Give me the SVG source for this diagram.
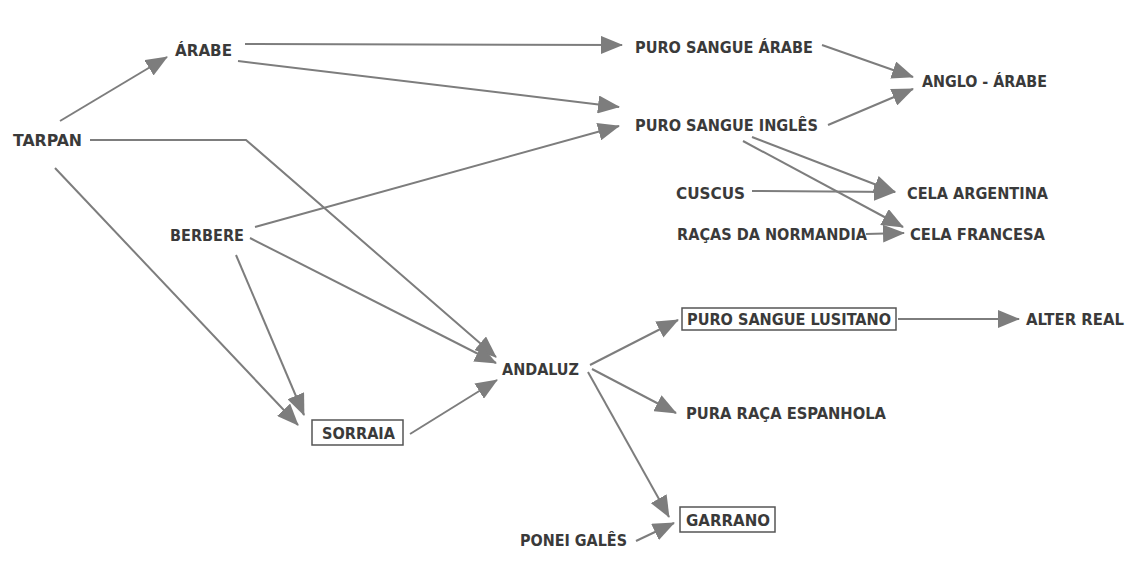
<svg xmlns="http://www.w3.org/2000/svg" width="1126" height="562" viewBox="0 0 1126 562">
<defs>
<style>
.t{font-family:"Liberation Sans Narrow","DejaVu Sans Condensed","Liberation Sans",sans-serif;font-weight:bold;font-size:16px;fill:#3a3a3a}
.c{fill:none;stroke:#7d7d7d;stroke-width:2}
.b{fill:#fff;stroke:#555;stroke-width:1.5}
</style>
<marker id="ah" markerUnits="userSpaceOnUse" markerWidth="22" markerHeight="18" refX="21" refY="9" orient="auto">
<path d="M0,0 L22,9 L0,18 Z" fill="#7d7d7d"/>
</marker>
</defs>
<rect width="1126" height="562" fill="#fff"/>
<g id="connectors">
<line class="c" x1="60" y1="121" x2="167" y2="57" marker-end="url(#ah)"/>
<line class="c" x1="245" y1="44" x2="622" y2="45" marker-end="url(#ah)"/>
<line class="c" x1="238" y1="61" x2="619" y2="107" marker-end="url(#ah)"/>
<line class="c" x1="822" y1="45" x2="913" y2="77" marker-end="url(#ah)"/>
<line class="c" x1="828" y1="125" x2="913" y2="89" marker-end="url(#ah)"/>
<line class="c" x1="752" y1="137" x2="895" y2="192" marker-end="url(#ah)"/>
<line class="c" x1="743" y1="141" x2="903" y2="227" marker-end="url(#ah)"/>
<line class="c" x1="752" y1="191" x2="895" y2="192" marker-end="url(#ah)"/>
<line class="c" x1="866" y1="234" x2="904" y2="233" marker-end="url(#ah)"/>
<polyline class="c" points="90,140 246,140 496,357" marker-end="url(#ah)"/>
<line class="c" x1="55" y1="168" x2="298" y2="425" marker-end="url(#ah)"/>
<line class="c" x1="255" y1="227" x2="619" y2="126" marker-end="url(#ah)"/>
<line class="c" x1="250" y1="238" x2="496" y2="363" marker-end="url(#ah)"/>
<line class="c" x1="236" y1="255" x2="304" y2="415" marker-end="url(#ah)"/>
<line class="c" x1="410" y1="434" x2="497" y2="380" marker-end="url(#ah)"/>
<line class="c" x1="590" y1="365" x2="678" y2="320" marker-end="url(#ah)"/>
<line class="c" x1="592" y1="369" x2="676" y2="413" marker-end="url(#ah)"/>
<line class="c" x1="588" y1="372" x2="669" y2="517" marker-end="url(#ah)"/>
<line class="c" x1="898" y1="319" x2="1019" y2="319" marker-end="url(#ah)"/>
<line class="c" x1="636" y1="541" x2="674" y2="523" marker-end="url(#ah)"/>
</g>
<g id="tarpan"><text class="t" x="13" y="146" textLength="69" lengthAdjust="spacingAndGlyphs">TARPAN</text></g>
<g id="arabe"><text class="t" x="175" y="56" textLength="57" lengthAdjust="spacingAndGlyphs">ÁRABE</text></g>
<g id="psa"><text class="t" x="635" y="53" textLength="178" lengthAdjust="spacingAndGlyphs">PURO SANGUE ÁRABE</text></g>
<g id="anglo"><text class="t" x="922" y="87" textLength="125" lengthAdjust="spacingAndGlyphs">ANGLO - ÁRABE</text></g>
<g id="psi"><text class="t" x="635" y="131" textLength="183" lengthAdjust="spacingAndGlyphs">PURO SANGUE INGLÊS</text></g>
<g id="cuscus"><text class="t" x="676" y="199" textLength="69" lengthAdjust="spacingAndGlyphs">CUSCUS</text></g>
<g id="cela-arg"><text class="t" x="907" y="199" textLength="141" lengthAdjust="spacingAndGlyphs">CELA ARGENTINA</text></g>
<g id="normandia"><text class="t" x="677" y="240" textLength="190" lengthAdjust="spacingAndGlyphs">RAÇAS DA NORMANDIA</text></g>
<g id="cela-fr"><text class="t" x="910" y="240" textLength="135" lengthAdjust="spacingAndGlyphs">CELA FRANCESA</text></g>
<g id="berbere"><text class="t" x="170" y="241" textLength="74" lengthAdjust="spacingAndGlyphs">BERBERE</text></g>
<g id="andaluz"><text class="t" x="502" y="375" textLength="77" lengthAdjust="spacingAndGlyphs">ANDALUZ</text></g>
<g id="sorraia"><rect class="b" x="312" y="420" width="91" height="25"/><text class="t" x="322" y="439" textLength="73" lengthAdjust="spacingAndGlyphs">SORRAIA</text></g>
<g id="lusitano"><rect class="b" x="682" y="308" width="214" height="22"/><text class="t" x="687" y="325" textLength="204" lengthAdjust="spacingAndGlyphs">PURO SANGUE LUSITANO</text></g>
<g id="alter"><text class="t" x="1026" y="325" textLength="98" lengthAdjust="spacingAndGlyphs">ALTER REAL</text></g>
<g id="pura"><text class="t" x="686" y="419" textLength="200" lengthAdjust="spacingAndGlyphs">PURA RAÇA ESPANHOLA</text></g>
<g id="garrano"><rect class="b" x="680" y="507" width="95" height="25"/><text class="t" x="686" y="526" textLength="84" lengthAdjust="spacingAndGlyphs">GARRANO</text></g>
<g id="ponei"><text class="t" x="520" y="546" textLength="107" lengthAdjust="spacingAndGlyphs">PONEI GALÊS</text></g>
</svg>
